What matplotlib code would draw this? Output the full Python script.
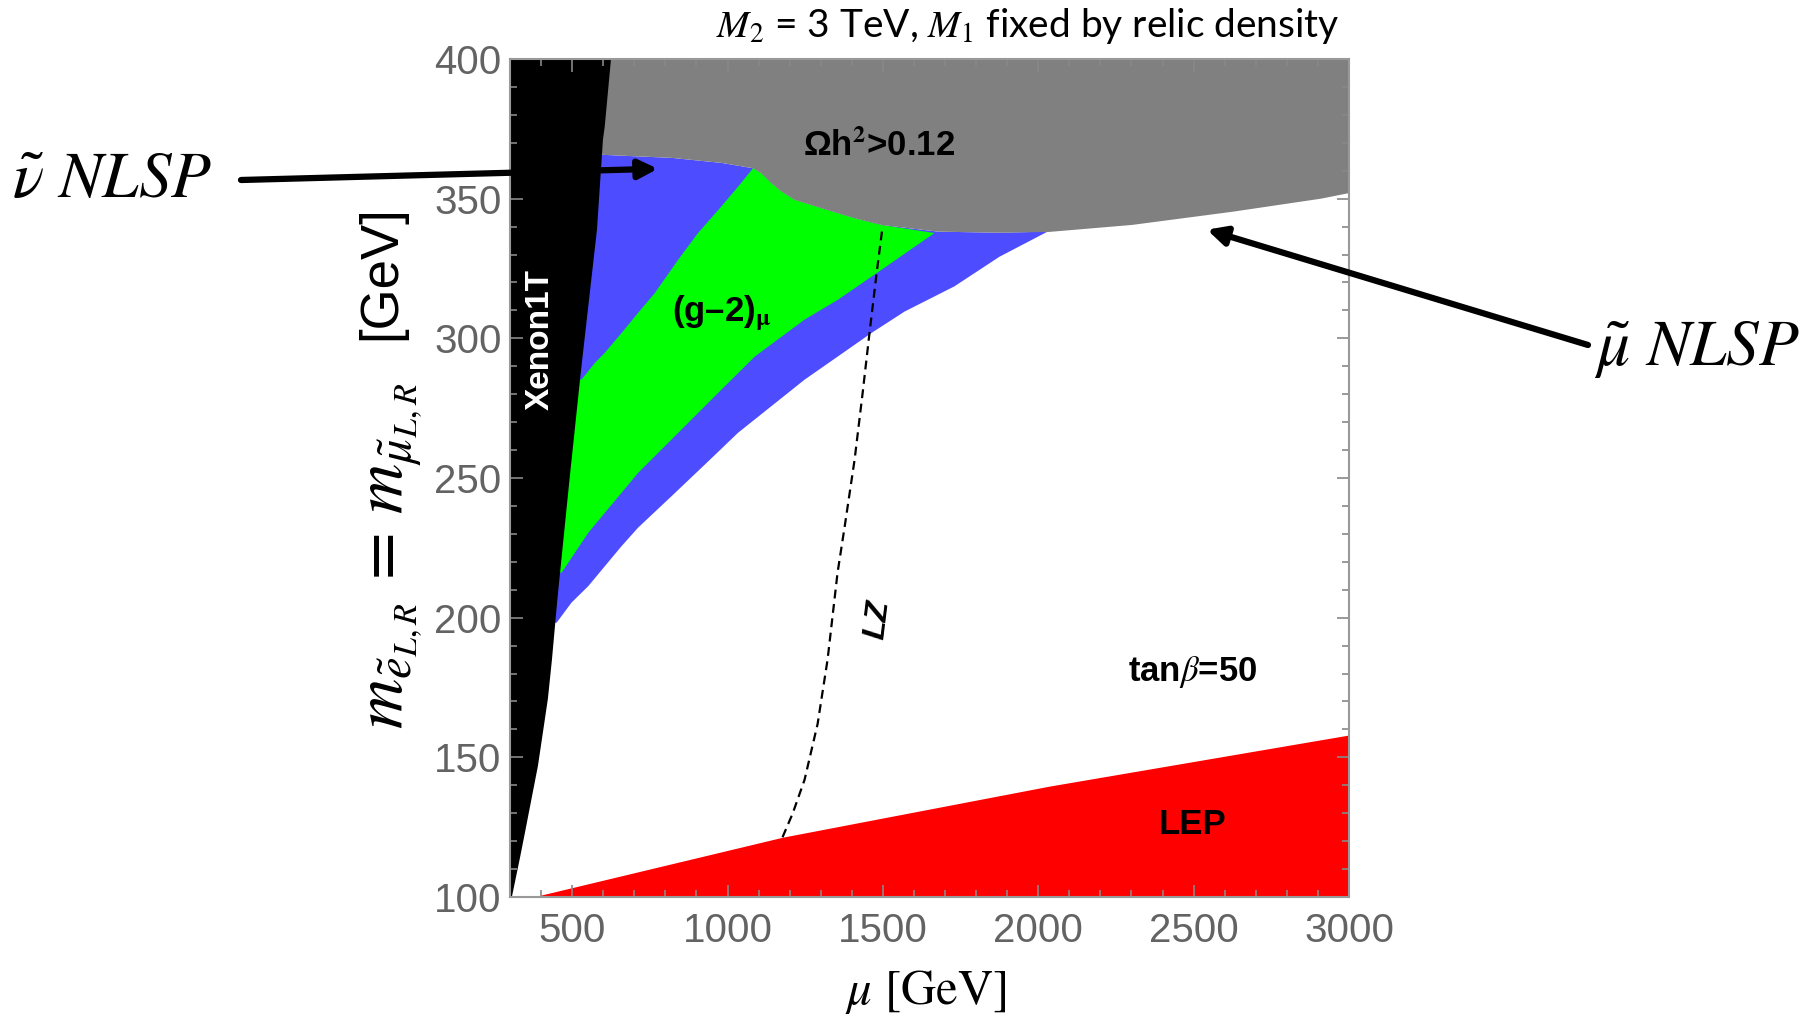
import matplotlib.pyplot as plt
import numpy as np

plt.rcParams['font.family'] = ['Liberation Sans', 'DejaVu Sans']
plt.rcParams['mathtext.fontset'] = 'stix'

# Xenon1T excluded region: right edge of the black wedge (mu vs slepton mass)
xenon_m = [100, 114, 123, 147, 171, 185, 206, 216, 250, 288, 339, 371, 376, 400]
xenon_mu = [306, 332, 348, 390, 422, 435, 452, 461, 492, 528, 580, 599, 605, 625]

# relic density boundary (Omega h^2 > 0.12 above it)
relic_mu = [500, 597, 821, 981, 1082, 1109, 1141, 1173, 1216, 1302, 1409, 1495, 1677,
            1875, 2036, 2302, 2624, 2910, 3000]
relic_m = [365.7, 365.7, 364.6, 362.8, 360.9, 359.1, 355.6, 352.6, 349.6, 346.6, 343, 340.6, 338.2,
           337.8, 338.1, 340.6, 345.3, 350.0, 352]

# (g-2) 2 sigma (blue) lower edge
blue_lo_mu = [450, 498, 552, 605, 659, 712, 820, 927, 1034, 1141, 1248, 1355, 1463, 1570, 1730,
              1875, 2030]
blue_lo_m = [198.2, 205.4, 211.3, 218.4, 225.6, 232.2, 243.5, 254.8, 266.2, 275.7, 285.2, 293.5,
             301.9, 309.6, 318.6, 329.2, 338.2]

# (g-2) 1 sigma (green) edges
green_up_mu = [420, 530, 573, 605, 659, 712, 766, 841, 905, 980, 1034, 1082]
green_up_m = [285.2, 285.2, 291.2, 294.8, 301.9, 309.1, 316.2, 328.1, 337.7, 347.2, 354.3, 360.9]
green_lo_mu = [420, 466, 552, 605, 712, 820, 873, 980, 1088, 1248, 1355, 1495, 1666]
green_lo_m = [216.1, 216.1, 230.4, 237.5, 251.8, 263.8, 269.7, 281.6, 293.5, 306.7, 313.8, 324.5, 337.7]

# LZ projected limit
lz_mu = [1177, 1210, 1248, 1290, 1322, 1354, 1377, 1409, 1435, 1457, 1480, 1499]
lz_m = [121.4, 130, 142, 162, 185, 216, 232.6, 256.6, 280.6, 302, 323.5, 340]

# LEP bound
lep_mu = [374, 1177, 2036, 3000]
lep_m = [100, 121.4, 139.7, 158]

W, H = 1816, 1023
fx = lambda x: x / W
fy = lambda y: 1 - y / H

fig = plt.figure(figsize=(18.16, 10.23), dpi=100)
ax = fig.add_axes([fx(510), fy(897), fx(1349) - fx(510), fy(59) - fy(897)])
ax.set_xlim(300, 3000)
ax.set_ylim(100, 400)

# blue band: from black edge, along relic boundary, back along the lower edge
i_end = relic_mu.index(2036)
blue_x = [400] + relic_mu[1:i_end] + [blue_lo_mu[-1]] + blue_lo_mu[::-1] + [400]
blue_y = [365.7] + relic_m[1:i_end] + [blue_lo_m[-1]] + blue_lo_m[::-1] + [198.2]
ax.fill(blue_x, blue_y, color='#4d4dff', lw=0)

# green band
g_relic = [(u, v) for u, v in zip(relic_mu, relic_m) if 1082 < u < 1666]
green_x = green_up_mu + [p[0] for p in g_relic] + green_lo_mu[::-1]
green_y = green_up_m + [p[1] for p in g_relic] + green_lo_m[::-1]
ax.fill(green_x, green_y, color='#00ff00', lw=0)

# relic density excluded (gray)
ax.fill(relic_mu + [3000, 500], relic_m + [400, 400], color='#808080', lw=0)

# Xenon1T (black)
ax.fill([300] + xenon_mu + [300], [100] + xenon_m + [400], color='black', lw=0)

# LEP (red)
ax.fill_between(lep_mu, lep_m, 100, color='#ff0000', lw=0)

# LZ dashed line
ax.plot(lz_mu, lz_m, color='black', lw=1.6, ls=(0, (4, 2.5)))

# region labels
ax.text(1487, 369, 'Ωh$^\\mathbf{2}$>0.12', fontsize=25, fontweight='bold', ha='center', va='center')
ax.text(981, 309, '(g–2)$_{\\mathbf{\\mu}}$', fontsize=25, fontweight='bold', ha='center', va='center')
ax.text(396, 299.5, 'Xenon1T', fontsize=24, fontweight='bold', color='white',
        rotation=90, ha='center', va='center')
ax.text(1483, 199.4, 'LZ', fontsize=23, fontweight='bold', fontstyle='italic',
        rotation=83, ha='center', va='center')
ax.text(2496, 180.4, 'tan$\\beta$=50', fontsize=25, fontweight='bold', ha='center', va='center')
ax.text(2496, 126, 'LEP', fontsize=25, fontweight='bold', ha='center', va='center')

# ticks and frame
ax.set_xticks([500, 1000, 1500, 2000, 2500, 3000])
ax.set_yticks([100, 150, 200, 250, 300, 350, 400])
ax.set_xticks(np.arange(300, 3001, 100), minor=True)
ax.set_yticks(np.arange(100, 401, 10), minor=True)
ax.tick_params(which='both', direction='in', top=True, right=True, color='#888888', width=1.2)
ax.tick_params(which='major', length=9, labelsize=29, labelcolor='#636363')
ax.tick_params(which='minor', length=5)
ax.tick_params(axis='x', pad=11)
ax.tick_params(axis='y', pad=6)
for s in ax.spines.values():
    s.set_color('#999999')
    s.set_linewidth(1.5)

# axis labels
fig.text(fx(926), fy(992), '$\\mu$ [GeV]', fontsize=35, family='STIXGeneral',
         ha='center', va='center')
fig.text(fx(402), fy(556), '$m_{\\tilde{e}_{L,R}}\\,=\\,m_{\\tilde{\\mu}_{L,R}}$', fontsize=50,
         rotation=90, rotation_mode='anchor', ha='center', va='baseline')
fig.text(fx(395), fy(273), '[GeV]', fontsize=38, rotation=90, rotation_mode='anchor',
         ha='center', va='baseline')

# title
fig.text(fx(1028), fy(26), '$M_2$ = 3 TeV, $M_1$ fixed by relic density', fontsize=28,
         family='Lato', ha='center', va='center')

# NLSP annotations
fig.text(fx(112), fy(181), '$\\tilde{\\nu}\\ NLSP$', fontsize=47, ha='center', va='center')
fig.text(fx(1697), fy(350), '$\\tilde{\\mu}\\ NLSP$', fontsize=47, ha='center', va='center')
arrow = dict(arrowstyle='-|>', lw=4.5, color='black', mutation_scale=28, shrinkA=0, shrinkB=0)
ax.annotate('', xy=(776, 360.7), xycoords='data', xytext=(fx(241), fy(180)),
            textcoords='figure fraction', arrowprops=arrow, annotation_clip=False)
ax.annotate('', xy=(2543, 338.9), xycoords='data', xytext=(fx(1588), fy(345)),
            textcoords='figure fraction', arrowprops=arrow, annotation_clip=False)

fig.savefig('out.png', dpi=100)
